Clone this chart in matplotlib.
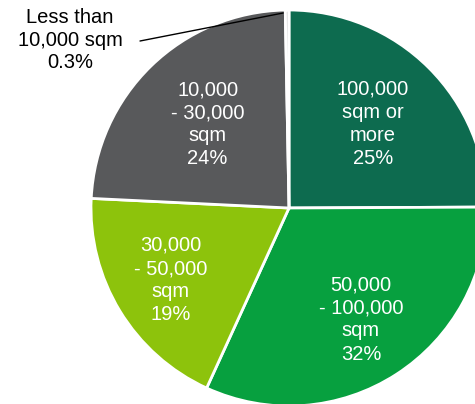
import matplotlib.pyplot as plt
import numpy as np

plt.rcParams['font.family'] = ['Liberation Sans', 'DejaVu Sans']

categories = ['100,000\nsqm or\nmore', '50,000\n- 100,000\nsqm', '30,000\n- 50,000\nsqm',
              '10,000\n- 30,000\nsqm', 'Less than\n10,000 sqm']
shares = [25, 32, 19, 24, 0.3]
pct_labels = ['25%', '32%', '19%', '24%', '0.3%']
colors = ['#0d6b4f', '#07a03f', '#8dc30c', '#58595b', '#d9d9d9']
label_r = [0.6, 0.67, 0.7, 0.59]

fig = plt.figure(figsize=(4.75, 4.04), dpi=100)
ax = fig.add_axes([0, 0, 1, 1])
wedges, _ = ax.pie(shares, colors=colors, startangle=90, counterclock=False,
                   normalize=True, radius=1,
                   wedgeprops=dict(edgecolor='white', linewidth=2))
ax.set_xlim(-289 / 198, (475 - 289) / 198)
ax.set_ylim(-(404 - 208) / 198, 208 / 198)
ax.set_aspect('auto')
ax.axis('off')

# labels inside the big slices
for w, cat, pct, r in zip(wedges[:4], categories, pct_labels, label_r):
    mid = np.deg2rad((w.theta1 + w.theta2) / 2)
    ax.text(r * np.cos(mid), r * np.sin(mid), cat + '\n' + pct, color='white',
            ha='center', va='center', fontsize=14.5, linespacing=1.27)

# small slice: label outside + leader line
w = wedges[4]
mid = np.deg2rad((w.theta1 + w.theta2) / 2)
ax.text(-1.106, 0.848, categories[4] + '\n' + pct_labels[4], ha='center', va='center',
        fontsize=14.5, linespacing=1.22, color='black')
ax.annotate('', xy=(0.985 * np.cos(mid) - 0.02, 0.985 * np.sin(mid)),
            xytext=(-0.7525, 0.8434),
            arrowprops=dict(arrowstyle='-', color='black', lw=1,
                            shrinkA=0, shrinkB=0))

fig.savefig('out.png', dpi=100)
